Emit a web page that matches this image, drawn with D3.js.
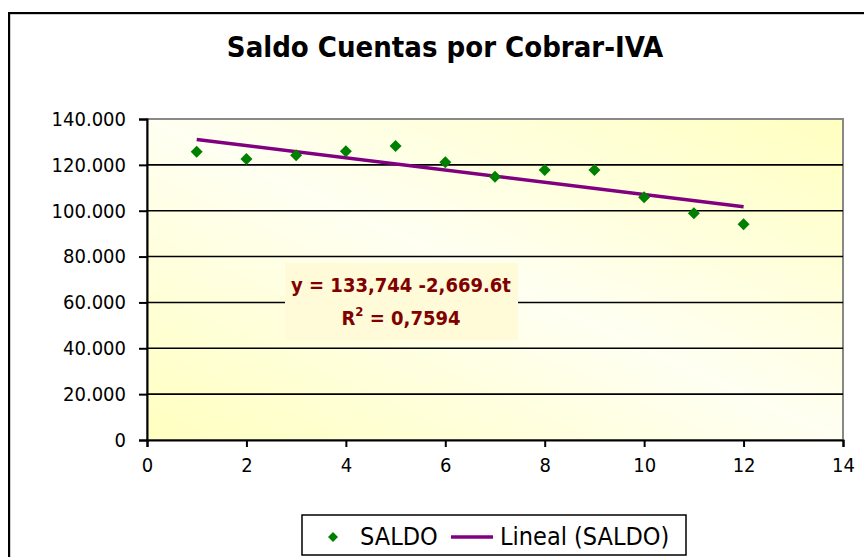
<!DOCTYPE html>
<html lang="es">
<head>
  <meta charset="UTF-8">
  <title>Saldo Cuentas por Cobrar-IVA</title>
  <script src="https://d3js.org/d3.v7.min.js"></script>
  <style>
    body { margin: 0; background: #fff; }
    svg { display: block; font-family: "DejaVu Sans Condensed", "DejaVu Sans", sans-serif; }
  </style>
</head>
<body>
  <div id="chart"></div>
  <script>
    // datos
    const periodos = [1, 2, 3, 4, 5, 6, 7, 8, 9, 10, 11, 12];
    const saldo = [125700, 122600, 124200, 125900, 128200, 121100, 114800, 117800, 117800, 105900, 98900, 94100];
    const xTicks = [0, 2, 4, 6, 8, 10, 12, 14];
    const yTicks = [0, 20000, 40000, 60000, 80000, 100000, 120000, 140000];
    const intercepto = 133744;
    const pendiente = -2669.6;
    const ecuacion = ["y = 133,744 -2,669.6t", "0,7594"];

    const W = 864, H = 557;
    const plot = { left: 147, right: 843, top: 119, bottom: 440 };

    const loc = d3.formatLocale({ decimal: ",", thousands: ".", grouping: [3], currency: ["", ""] });
    const fmt = loc.format(",d");

    const svg = d3.select("#chart").append("svg")
      .attr("width", W).attr("height", H);

    // gradiente del area de trazado
    const defs = svg.append("defs");
    const grad = defs.append("linearGradient").attr("id", "fondo")
      .attr("x1", "0").attr("y1", "1").attr("x2", "1").attr("y2", "0");
    grad.append("stop").attr("offset", "0").attr("stop-color", "#ffffc0");
    grad.append("stop").attr("offset", "0.5").attr("stop-color", "#fffff2");
    grad.append("stop").attr("offset", "1").attr("stop-color", "#ffffc0");

    // marco exterior
    svg.append("rect")
      .attr("x", 10).attr("y", 14).attr("width", 880).attr("height", 600)
      .attr("fill", "none").attr("stroke", "#999").attr("stroke-width", 1);
    svg.append("rect")
      .attr("x", 9).attr("y", 13).attr("width", 880).attr("height", 600)
      .attr("fill", "none").attr("stroke", "#000").attr("stroke-width", 2);

    svg.append("text")
      .attr("x", 445).attr("y", 57)
      .attr("text-anchor", "middle")
      .attr("font-size", 29).attr("font-weight", "bold")
      .text("Saldo Cuentas por Cobrar-IVA");

    const x = d3.scaleLinear().domain([0, 14]).range([plot.left, plot.right]);
    const y = d3.scaleLinear().domain([0, 140000]).range([plot.bottom, plot.top]);

    svg.append("rect")
      .attr("x", plot.left).attr("y", plot.top)
      .attr("width", plot.right - plot.left).attr("height", plot.bottom - plot.top)
      .attr("fill", "url(#fondo)")
      .attr("stroke", "#888").attr("stroke-width", 2);

    // lineas de cuadricula
    svg.append("g").selectAll("line")
      .data(yTicks.filter(d => d > 0 && d < 140000))
      .join("line")
      .attr("x1", plot.left).attr("x2", plot.right)
      .attr("y1", d => y(d)).attr("y2", d => y(d))
      .attr("stroke", "#000").attr("stroke-width", 1.6);

    // ejes
    const yAxis = svg.append("g")
      .attr("transform", `translate(${plot.left},0)`)
      .call(d3.axisLeft(y).tickValues(yTicks).tickFormat(fmt).tickSize(8).tickPadding(13));
    const xAxis = svg.append("g")
      .attr("transform", `translate(0,${plot.bottom})`)
      .call(d3.axisBottom(x).tickValues(xTicks).tickSize(7).tickPadding(11));
    [yAxis, xAxis].forEach(g => {
      g.select(".domain").attr("stroke", "#000").attr("stroke-width", 2);
      g.selectAll(".tick line").attr("stroke", "#000").attr("stroke-width", 2);
      g.selectAll(".tick text")
        .attr("font-family", "'DejaVu Sans Condensed', 'DejaVu Sans', sans-serif")
        .attr("font-size", 20).attr("fill", "#000");
    });

    // etiqueta de la ecuacion
    const lbl = svg.append("g");
    lbl.append("rect")
      .attr("x", 285).attr("y", 263).attr("width", 233).attr("height", 77)
      .attr("fill", "#fffbd8");
    const t = lbl.append("text")
      .attr("text-anchor", "middle")
      .attr("font-size", 20).attr("font-weight", "bold").attr("fill", "#800000");
    t.append("tspan").attr("x", 401).attr("y", 292).text(ecuacion[0]);
    const t2 = t.append("tspan").attr("x", 401).attr("y", 325);
    t2.append("tspan").text("R");
    t2.append("tspan").attr("dy", -9).attr("font-size", 13).text("2");
    t2.append("tspan").attr("dy", 9).text(" = " + ecuacion[1]);

    // linea de tendencia
    const tMin = d3.min(periodos), tMax = d3.max(periodos);
    svg.append("line")
      .attr("x1", x(tMin)).attr("y1", y(intercepto + pendiente * tMin))
      .attr("x2", x(tMax)).attr("y2", y(intercepto + pendiente * tMax))
      .attr("stroke", "#800080").attr("stroke-width", 3.5);

    // puntos
    const diamante = d3.symbol().type(d3.symbolSquare).size(72);
    svg.append("g").selectAll("path")
      .data(periodos.map((p, i) => [p, saldo[i]]))
      .join("path")
      .attr("d", diamante)
      .attr("transform", d => `translate(${x(d[0])},${y(d[1])}) rotate(45)`)
      .attr("fill", "#008000");

    // leyenda
    const leg = svg.append("g");
    leg.append("rect")
      .attr("x", 302).attr("y", 515).attr("width", 384).attr("height", 40)
      .attr("fill", "#fff").attr("stroke", "#000").attr("stroke-width", 1.5);
    leg.append("path")
      .attr("d", d3.symbol().type(d3.symbolSquare).size(50))
      .attr("transform", "translate(333,537) rotate(45)")
      .attr("fill", "#008000");
    leg.append("text").attr("x", 360).attr("y", 545)
      .attr("font-size", 25).text("SALDO");
    leg.append("line")
      .attr("x1", 451).attr("x2", 493).attr("y1", 537).attr("y2", 537)
      .attr("stroke", "#800080").attr("stroke-width", 3.5);
    leg.append("text").attr("x", 500).attr("y", 545)
      .attr("font-size", 25).text("Lineal (SALDO)");
  </script>
</body>
</html>
